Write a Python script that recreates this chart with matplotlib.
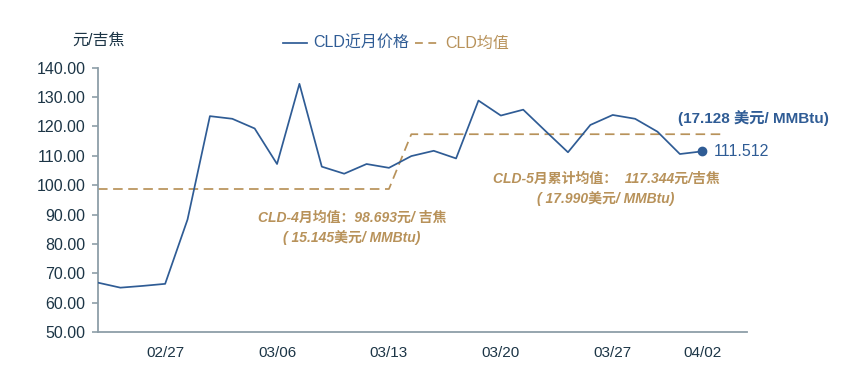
import matplotlib.pyplot as plt
from matplotlib.lines import Line2D

plt.rcParams['font.family'] = ['Liberation Sans', 'Noto Sans CJK SC', 'DejaVu Sans']

# trading days (MM/DD)
dates = ['02/24', '02/25', '02/26', '02/27', '02/28', '03/03', '03/04', '03/05',
         '03/06', '03/07', '03/10', '03/11', '03/12', '03/13', '03/14', '03/17',
         '03/18', '03/19', '03/20', '03/21', '03/24', '03/25', '03/26', '03/27',
         '03/28', '03/31', '04/01', '04/02']
# CLD near-month price, yuan / GJ
price = [66.8, 65.1, 65.7, 66.4, 88.3, 123.5, 122.6, 119.3, 107.2, 134.5,
         106.3, 103.9, 107.2, 105.9, 109.9, 111.7, 109.1, 128.8, 123.7, 125.7,
         118.4, 111.2, 120.5, 123.9, 122.6, 118.2, 110.6, 111.512]
# contract averages
apr_avg = 98.693
may_avg = 117.344
avg_line = [apr_avg] * 14 + [may_avg] * 15
tick_dates = ['02/27', '03/06', '03/13', '03/20', '03/27', '04/02']
yticks = [50, 60, 70, 80, 90, 100, 110, 120, 130, 140]

blue = '#2F5C95'
gold = '#B8925A'
dark = '#1C3546'
spine = '#8D9EA8'

fig = plt.figure(figsize=(8.65, 3.76), dpi=100)
ax = fig.add_axes([0.1133, 0.117, 0.7503, 0.703])

x = list(range(len(price)))
ax.plot(x, price, color=blue, lw=1.25, zorder=3)
ax.plot(list(range(len(avg_line))), avg_line, color=gold, lw=1.25,
        dashes=(5.5, 3.2), zorder=2)
ax.plot(x[-1], price[-1], 'o', color=blue, ms=6, zorder=4)

ax.set_xlim(0, 29)
ax.set_ylim(50, 140)
ax.set_yticks(yticks)
ax.set_yticklabels([f'{v:.2f}' for v in yticks])
ax.set_xticks([dates.index(d) for d in tick_dates])
ax.set_xticklabels(tick_dates)
ax.tick_params(axis='y', colors=spine, labelcolor=dark, labelsize=11.5,
               length=4, width=1.2, pad=5)
ax.tick_params(axis='x', length=0, labelcolor=dark, labelsize=11, pad=10)
for s in ['top', 'right']:
    ax.spines[s].set_visible(False)
for s in ['left', 'bottom']:
    ax.spines[s].set_color(spine)
    ax.spines[s].set_linewidth(1.3)

fig.text(0.084, 0.893, '元/吉焦', fontsize=11.5, color=dark, va='center')

# legend
handles = [Line2D([], [], color=blue, lw=1.25),
           Line2D([], [], color=gold, lw=1.25, dashes=(4.5, 3.2))]
leg = fig.legend(handles, ['CLD近月价格', 'CLD均值'], loc='center left',
                 bbox_to_anchor=(0.327, 0.884), ncol=2, frameon=False,
                 fontsize=11.5, handlelength=1.5, handletextpad=0.4,
                 columnspacing=0.35, borderpad=0, borderaxespad=0)
leg.get_texts()[0].set_color(blue)
leg.get_texts()[1].set_color(gold)

# annotations
ax.annotate(f'{price[-1]:.3f}', (x[-1], price[-1]), xytext=(8, 0),
            textcoords='offset points', va='center', ha='left',
            fontsize=11.5, color=blue, annotation_clip=False)
ax.text(25.9, 122.8, '(17.128 美元/ MMBtu)', ha='left', va='center',
        fontsize=11, fontweight='bold', color=blue, clip_on=False)
ax.text(22.7, 102.1, f'CLD-5月累计均值：  {may_avg:.3f}元/吉焦', ha='center',
        va='center', fontsize=10, fontweight='bold', style='italic', color=gold)
ax.text(22.7, 95.6, '( 17.990美元/ MMBtu)', ha='center', va='center',
        fontsize=10, fontweight='bold', style='italic', color=gold)
ax.text(11.35, 88.9, f'CLD-4月均值：{apr_avg:.3f}元/ 吉焦', ha='center',
        va='center', fontsize=10, fontweight='bold', style='italic', color=gold)
ax.text(11.35, 82.2, '( 15.145美元/ MMBtu)', ha='center', va='center',
        fontsize=10, fontweight='bold', style='italic', color=gold)

fig.savefig('out.png', dpi=100)
